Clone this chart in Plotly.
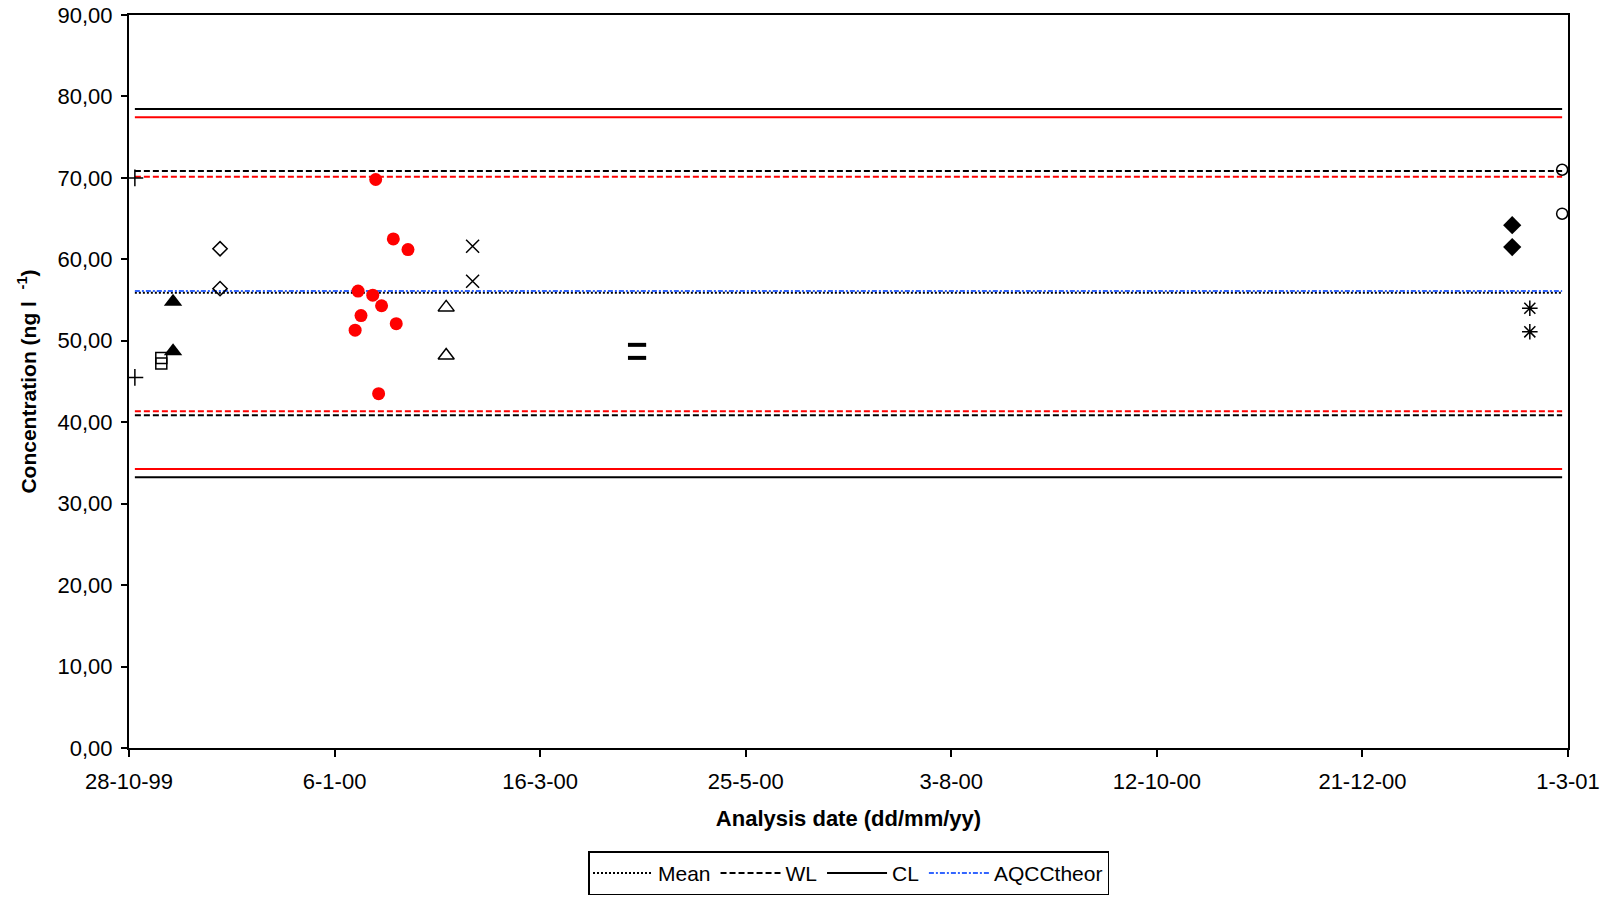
import plotly.graph_objects as go

# ---- data ----
tick_dates = ["1999-10-28", "2000-01-06", "2000-03-16", "2000-05-25",
              "2000-08-03", "2000-10-12", "2000-12-21", "2001-03-01"]
tick_labels = ["28-10-99", "6-1-00", "16-3-00", "25-5-00",
               "3-8-00", "12-10-00", "21-12-00", "1-3-01"]
y_ticks = [0, 10, 20, 30, 40, 50, 60, 70, 80, 90]

line_dates = ["1999-10-30", "2001-02-27"]
mean_val = 55.9
aqcc_theor = 56.1
wl_upper, wl_lower = 70.85, 40.85
cl_upper, cl_lower = 78.45, 33.25
red_wl_upper, red_wl_lower = 70.15, 41.35
red_cl_upper, red_cl_lower = 77.45, 34.25

plus_dates = ["1999-10-30", "1999-10-30"]
plus_vals = [70.0, 45.5]
square_dates = ["1999-11-08", "1999-11-08"]
square_vals = [47.9, 47.2]
tri_fill_dates = ["1999-11-12", "1999-11-12"]
tri_fill_vals = [54.8, 48.7]
diam_open_dates = ["1999-11-28", "1999-11-28"]
diam_open_vals = [61.3, 56.4]
red_dates = ["2000-01-13", "2000-01-14", "2000-01-15", "2000-01-19", "2000-01-20",
             "2000-01-21", "2000-01-22", "2000-01-26", "2000-01-27", "2000-01-31"]
red_vals = [51.3, 56.1, 53.1, 55.6, 69.8, 43.5, 54.3, 62.5, 52.1, 61.2]
tri_open_dates = ["2000-02-13", "2000-02-13"]
tri_open_vals = [54.1, 48.2]
x_dates = ["2000-02-22", "2000-02-22"]
x_vals = [61.6, 57.3]
dash_dates = ["2000-04-18", "2000-04-18"]
dash_vals = [49.5, 47.9]
diam_fill_dates = ["2001-02-10", "2001-02-10"]
diam_fill_vals = [64.2, 61.5]
ast_dates = ["2001-02-16", "2001-02-16"]
ast_vals = [54.0, 51.1]
circ_open_dates = ["2001-02-27", "2001-02-27"]
circ_open_vals = [71.0, 65.6]

FONT = "Arial, Liberation Sans, sans-serif"

fig = go.Figure()

def hline(val, color, dash, name, show):
    fig.add_trace(go.Scatter(x=line_dates, y=[val, val], mode="lines",
                             line=dict(color=color, width=2, dash=dash),
                             name=name, showlegend=show, legendgroup=name,
                             hoverinfo="skip"))

hline(red_cl_upper, "#FF0000", "solid", "CLtheor", False)
hline(red_cl_lower, "#FF0000", "solid", "CLtheor", False)
hline(red_wl_upper, "#FF0000", "6px,3px", "WLtheor", False)
hline(red_wl_lower, "#FF0000", "6px,3px", "WLtheor", False)
hline(mean_val, "#000000", "2px,2px", "Mean", True)
hline(wl_upper, "#000000", "6px,3px", "WL", True)
hline(wl_lower, "#000000", "6px,3px", "WL", False)
hline(cl_upper, "#000000", "solid", "CL", True)
hline(cl_lower, "#000000", "solid", "CL", False)
hline(aqcc_theor, "#3366FF", "5px,2px,2px,2px", "AQCCtheor", True)

def pts(x, y, symbol, size, color="#000000", lw=1.5):
    fig.add_trace(go.Scatter(x=x, y=y, mode="markers", showlegend=False,
                             marker=dict(symbol=symbol, size=size, color=color,
                                         line=dict(color=color, width=lw))))

pts(plus_dates, plus_vals, "cross-thin-open", 12)
pts(square_dates, square_vals, "square-open", 11)
pts(tri_fill_dates, tri_fill_vals, "triangle-up", 16, lw=0)
pts(diam_open_dates, diam_open_vals, "diamond-open", 11)
pts(red_dates, red_vals, "circle", 13, color="#FF0000", lw=0)
pts(tri_open_dates, tri_open_vals, "triangle-up-open", 14)
pts(x_dates, x_vals, "x-thin-open", 13)
pts(dash_dates, dash_vals, "line-ew-open", 13, lw=4)
pts(diam_fill_dates, diam_fill_vals, "diamond", 14, lw=0)
pts(ast_dates, ast_vals, "asterisk-open", 13)
pts(circ_open_dates, circ_open_vals, "circle-open", 11)

fig.update_layout(
    template="none",
    width=1601, height=898,
    margin=dict(l=129, r=33, t=15, b=150, autoexpand=False),
    paper_bgcolor="white", plot_bgcolor="white",
    separators=",.",
    font=dict(family=FONT, size=22, color="black"),
    showlegend=True,
    legend=dict(orientation="h", x=0.5, xanchor="center", y=-0.171, yanchor="middle",
                bordercolor="black", borderwidth=1.5, bgcolor="white",
                font=dict(family=FONT, size=21), itemwidth=60,
                tracegroupgap=0),
)
fig.update_xaxes(
    type="date", range=["1999-10-28", "2001-03-01"], automargin=False,
    tickvals=tick_dates, ticktext=tick_labels,
    showline=True, linecolor="black", linewidth=2, mirror=True,
    ticks="outside", ticklen=7, tickwidth=2, tickcolor="black",
    ticklabelstandoff=6,
    showgrid=False, zeroline=False,
    tickfont=dict(family=FONT, size=22),
    title=dict(text="<b>Analysis date (dd/mm/yy)</b>", font=dict(family=FONT, size=22), standoff=17),
)
fig.update_yaxes(
    range=[0, 90], tickvals=y_ticks, tickformat=".2f", automargin=False,
    showline=True, linecolor="black", linewidth=2, mirror=True,
    ticks="outside", ticklen=6, tickwidth=2, tickcolor="black",
    ticklabelstandoff=4,
    showgrid=False, zeroline=False,
    tickfont=dict(family=FONT, size=22),
    title=dict(text="<b>Concentration (ng l  <sup>-1</sup>)</b>", font=dict(family=FONT, size=21), standoff=15),
)

fig.write_html("out.html", config={"displayModeBar": False},
               post_script="document.body.style.margin='0';")
